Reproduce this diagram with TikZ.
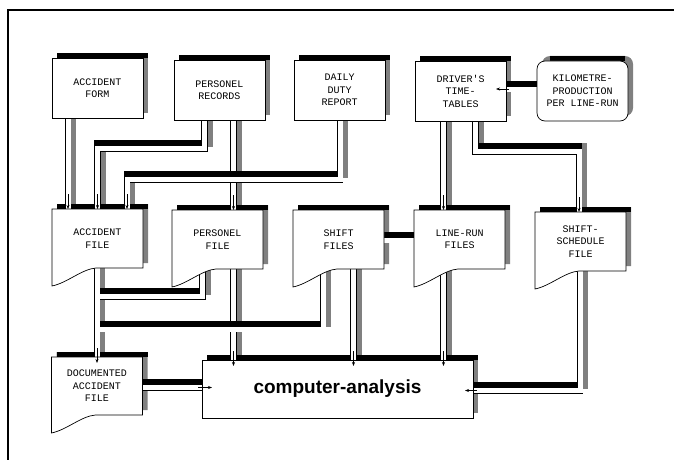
\documentclass[tikz,border=0pt]{standalone}
\usepackage{fontspec}
\newfontfamily\capsfont{Liberation Mono}
\newfontfamily\compfont{Liberation Sans}
\usetikzlibrary{arrows.meta, calc}

\definecolor{shadegrey}{gray}{0.5}

\pgfdeclarelayer{shade}
\pgfdeclarelayer{pipes}
\pgfdeclarelayer{bodies}
\pgfsetlayers{shade,pipes,bodies,main}

% file outline: flat top, wavy bottom on the left
\newcommand{\fileoutline}[1]{(#1.north west) -- (#1.north east) -- (#1.south east)
  -- ([xshift=44pt]#1.south west)
  .. controls ([xshift=30pt,yshift=-1pt]#1.south west) and ([xshift=15pt,yshift=-15pt]#1.south west)
  .. ([yshift=-18pt]#1.south west) -- cycle}

\newcommand{\boxshade}[1]{%
  \fill[shadegrey] ([shift={(5pt,5pt)}]#1.south west) rectangle ([shift={(5pt,5pt)}]#1.north east);
  \fill[black] ([xshift=5pt]#1.north west) rectangle ([shift={(5pt,5pt)}]#1.north east);}

\newcommand{\fileshade}[1]{%
  \fill[shadegrey, transform canvas={shift={(5pt,5pt)}}] \fileoutline{#1};
  \fill[black] ([xshift=5pt]#1.north west) rectangle ([shift={(5pt,5pt)}]#1.north east);}

\newcommand{\tube}[1]{%
  \draw[tubeshade] #1;
  \draw[tubetop] #1;
  \draw[tube] #1;}

\begin{document}
\begin{tikzpicture}[
    x=1pt, y=-1pt,
    font=\capsfont\fontsize{10}{12.5}\selectfont,
    box/.style={draw, line width=0.7pt, fill=white, minimum width=91pt,
                minimum height=60pt, inner sep=0pt, outer sep=0pt, align=center},
    filebox/.style={minimum width=91pt, minimum height=59pt, inner sep=0pt,
                outer sep=0pt, align=center},
    fileline/.style={draw, line width=0.7pt, fill=white},
    tube/.style={draw=black, line width=0.7pt, double=white, double distance=5pt},
    tubeshade/.style={draw=shadegrey, line width=6.4pt,
                transform canvas={shift={(5pt,5pt)}}},
    tubetop/.style={draw=black, line width=6.4pt,
                transform canvas={shift={(0pt,5pt)}}},
    tip/.style={-{Stealth[length=4pt,width=3pt]}, line width=0.6pt}
  ]

  \useasboundingbox (0,0) rectangle (674,460);
  \draw[line width=1.2pt] (674,10) -- (8,10) -- (8,460);

  % sources
  \node[box] (form) at (97.5,88)  {ACCIDENT\\FORM};
  \node[box] (rec)  at (219.5,90) {PERSONEL\\RECORDS};
  \node[box] (duty) at (339.5,90) {DAILY\\DUTY\\REPORT};
  \node[box] (drv)  at (460.5,91) {DRIVER'S\\TIME-\\TABLES};
  \node[box, rounded corners=8pt] (km) at (582.5,91) {KILOMETRE-\\PRODUCTION\\PER LINE-RUN};

  % files
  \node[filebox] (accf) at (97.5,238.5) {ACCIDENT\\FILE};
  \node[filebox] (perf) at (217.5,239.5) {PERSONEL\\FILE};
  \node[filebox] (shf)  at (338.5,239.5) {SHIFT\\FILES};
  \node[filebox] (lrf)  at (459.5,239.5) {LINE-RUN\\FILES};
  \node[filebox] (ssf)  at (580.5,241.5) {SHIFT-\\SCHEDULE\\FILE};
  \node[filebox, minimum height=58pt] (doc) at (97,386) {DOCUMENTED\\ACCIDENT\\FILE};

  % analysis
  \node[box, minimum width=271pt, minimum height=58pt,
        font=\compfont\bfseries\fontsize{19}{22}\selectfont] (comp) at (337.5,389) {computer-analysis};

  \begin{pgfonlayer}{bodies}
    \foreach \f in {accf,perf,shf,lrf,ssf,doc}
      \draw[fileline] \fileoutline{\f};
  \end{pgfonlayer}

  \begin{pgfonlayer}{shade}
    \foreach \b in {form,rec,duty,drv,comp} {\boxshade{\b}}
    \foreach \f in {accf,perf,shf,lrf,ssf,doc} {\fileshade{\f}}
    \fill[shadegrey, rounded corners=8pt] ([shift={(5pt,5pt)}]km.south west) rectangle ([shift={(5pt,5pt)}]km.north east);
    \fill[black] ([xshift=13pt]km.north west) rectangle ([shift={(-3pt,5pt)}]km.north east);
  \end{pgfonlayer}

  % pipe columns and bends
  \coordinate (kA)  at (68,0);
  \coordinate (kB0) at (204.5,0);
  \coordinate (kB)  at (97.5,148.5);
  \coordinate (kC0) at (340,0);
  \coordinate (kC)  at (127,179.5);
  \coordinate (kD)  at (233.5,0);
  \coordinate (kE)  at (443.5,0);
  \coordinate (kF0) at (475.5,0);
  \coordinate (kF)  at (579,151.5);
  \coordinate (kG)  at (0,89);
  \coordinate (kH)  at (0,240);
  \coordinate (kI)  at (97,0);
  \coordinate (kP0) at (202.5,0);
  \coordinate (kP)  at (99.6,296.5);
  \coordinate (kQ0) at (323,0);
  \coordinate (kQ)  at (99.6,329);
  \coordinate (kM)  at (353.5,0);
  \coordinate (kO)  at (580,390.5);
  \coordinate (kR)  at (0,387.5);

  \begin{pgfonlayer}{pipes}
    \tube{(form.south -| kA) -- (accf.north -| kA)}
    \tube{(rec.south -| kB0) |- (kB) -- (accf.north -| kB)}
    \tube{(rec.south -| kD) -- (perf.north -| kD)}
    \tube{(duty.south -| kC0) |- (kC) -- (accf.north -| kC)}
    \tube{(drv.south -| kE) -- (lrf.north -| kE)}
    \tube{(drv.south -| kF0) |- (kF) -- (ssf.north -| kF)}
    \tube{(km.west |- kG) -- (drv.east |- kG)}
    \tube{(shf.east |- kH) -- (lrf.west |- kH)}
    \tube{(accf.center -| kI) -- (doc.north -| kI)}
    \tube{(perf.center -| kD) -- (comp.north -| kD)}
    \tube{(perf.center -| kP0) |- (kP)}
    \tube{(shf.center -| kQ0) |- (kQ)}
    \tube{(shf.center -| kM) -- (comp.north -| kM)}
    \tube{(lrf.center -| kE) -- (comp.north -| kE)}
    \tube{(ssf.center -| kO) |- (comp.east |- kO)}
    \tube{(doc.center |- kR) -- (comp.west |- kR)}
  \end{pgfonlayer}

  % arrow tips
  \path (accf.north -| kA) coordinate (aA);
  \path (accf.north -| kB) coordinate (aB);
  \path (accf.north -| kC) coordinate (aC);
  \path (perf.north -| kD) coordinate (aD);
  \path (lrf.north -| kE)  coordinate (aE);
  \path (ssf.north -| kF)  coordinate (aF);
  \path (doc.north -| kI) ++(0,6) coordinate (aI);
  \path (comp.north -| kD) ++(0,6) coordinate (aL);
  \path (comp.north -| kM) ++(0,6) coordinate (aM);
  \path (comp.north -| kE) ++(0,6) coordinate (aN);
  \path (drv.east |- kG) ++(-10,0) coordinate (aG);
  \path (comp.east |- kO) ++(-8,0) coordinate (aO);
  \path (comp.west |- kR) ++(10,0) coordinate (aR);

  \foreach \t in {aA,aB,aC,aD,aE,aF,aI,aL,aM,aN}
    \draw[tip] (\t) ++(0,-15) -- (\t);
  \draw[tip] (aG) ++(13,0) -- (aG);
  \draw[tip] (aO) ++(12,0) -- (aO);
  \draw[tip] (aR) ++(-14,0) -- (aR);

\end{tikzpicture}
\end{document}
